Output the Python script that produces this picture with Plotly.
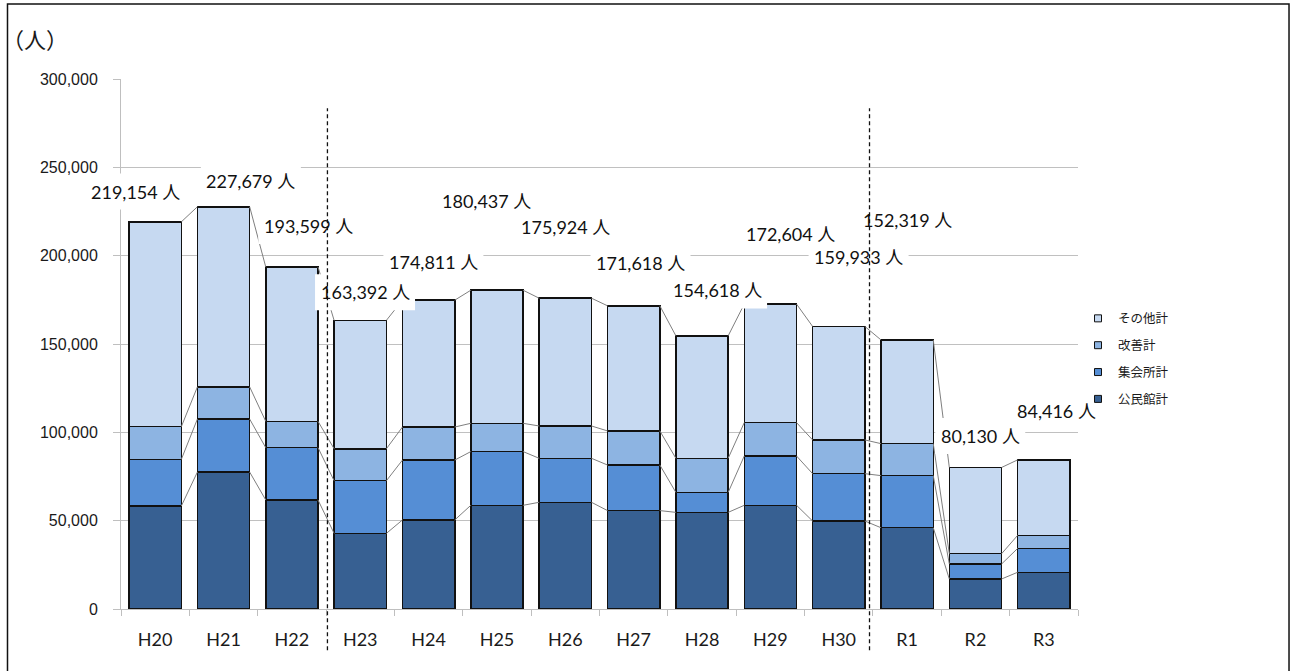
import plotly.graph_objects as go

# 年度
years = ["H20", "H21", "H22", "H23", "H24", "H25", "H26", "H27", "H28", "H29", "H30", "R1", "R2", "R3"]

# 利用者数（人）
kominkan = [58300, 77500, 61700, 42800, 50400, 58700, 60400, 55700, 54700, 58700, 49800, 46000, 17000, 20800]
shukaijo = [26400, 30000, 29600, 29800, 33900, 30400, 24900, 25800, 11300, 27900, 26800, 29500, 8500, 13500]
kaizen = [18500, 18200, 14900, 18100, 18700, 16000, 18300, 19300, 19300, 18900, 19100, 18100, 5800, 7400]
sonota = [115954, 101979, 87399, 72692, 71811, 75337, 72324, 70818, 69318, 67104, 64233, 58719, 48830, 42716]

series = [
    ("公民館計", kominkan, "#376092"),
    ("集会所計", shukaijo, "#558ed5"),
    ("改善計", kaizen, "#8db4e2"),
    ("その他計", sonota, "#c6d9f1"),
]

# 合計ラベルの配置（データ座標）
label_x = [-0.285, 1.40, 2.24, 3.07, 4.07, 4.85, 6.00, 7.10, 8.22, 9.30, 10.29, 11.01, 12.07, 13.19]
label_y = [236300, 242500, 216800, 179300, 196700, 230900, 216500, 195600, 180300, 212500, 199500, 220200, 97900, 112100]

# 区切り線の位置（年度境界）
divider_x = [2.52, 10.45]

BAR_WIDTH = 0.765
N = len(years)
xs = list(range(N))
Y_MAX = 300000

fig = go.Figure()

# 積み上げ棒
for name, vals, color in series:
    fig.add_trace(go.Bar(
        x=xs, y=vals, name=name, width=BAR_WIDTH,
        marker=dict(color=color, line=dict(color="#111111", width=1.5)),
        showlegend=False, hoverinfo="skip",
    ))

# 系列線（隣り合う棒の各段の上端を結ぶ）
cum = [0] * N
for name, vals, color in series:
    cum = [c + v for c, v in zip(cum, vals)]
    lx, ly = [], []
    for i in range(N - 1):
        lx += [xs[i] + BAR_WIDTH / 2, xs[i + 1] - BAR_WIDTH / 2, None]
        ly += [cum[i], cum[i + 1], None]
    fig.add_trace(go.Scatter(
        x=lx, y=ly, mode="lines", line=dict(color="#7f7f7f", width=1),
        showlegend=False, hoverinfo="skip",
    ))
totals = cum

# 凡例（上から その他計・改善計・集会所計・公民館計）
for name, vals, color in reversed(series):
    fig.add_trace(go.Scatter(
        x=[None], y=[None], mode="markers", name=name, legendgroup=name,
        marker=dict(symbol="square", size=7, color=color,
                    line=dict(color="#111111", width=1)),
    ))

shapes = []
annotations = []

# 合計ラベル（白背景つき）
for i, t in enumerate(totals):
    w = 100 if t >= 100000 else 90
    shapes.append(dict(
        type="rect", xref="paper", yref="paper", layer="above",
        xsizemode="pixel", ysizemode="pixel",
        xanchor=(label_x[i] + 0.5) / N, yanchor=label_y[i] / Y_MAX,
        x0=-w / 2, x1=w / 2, y0=-18, y1=18,
        fillcolor="white", line=dict(width=0),
    ))
    annotations.append(dict(
        x=label_x[i], y=label_y[i], xref="x", yref="y",
        text=f"{t:,} 人", showarrow=False,
        font=dict(family="Lato, 'Noto Sans CJK JP'", size=18, color="#111111"),
    ))

# 年度区切りの破線
for dx in divider_x:
    px = (dx + 0.5) / N
    shapes.append(dict(
        type="line", xref="paper", yref="paper", layer="above",
        x0=px, x1=px, y0=-0.078, y1=0.945,
        line=dict(color="#111111", width=1.3, dash="4px,3px"),
    ))

# 外枠
shapes.append(dict(
    type="rect", xref="paper", yref="paper", layer="above",
    x0=-0.1186, x1=1.2205, y0=-0.2, y1=1.1415,
    line=dict(color="#111111", width=1.5), fillcolor="rgba(0,0,0,0)",
))

annotations.append(dict(
    x=-0.1264, y=1.0774, xref="paper", yref="paper", xanchor="left", yanchor="middle",
    text="（人）", showarrow=False,
    font=dict(family="'Noto Sans CJK JP'", size=22, color="#1a1a1a"),
))

fig.update_layout(
    barmode="stack",
    width=1290, height=671,
    margin=dict(l=121, r=212, t=79, b=62),
    paper_bgcolor="white", plot_bgcolor="white",
    shapes=shapes, annotations=annotations,
    showlegend=True,
    legend=dict(
        x=1.0, y=0.576, xanchor="left", yanchor="top",
        font=dict(family="'Noto Sans CJK JP'", size=12.5, color="#1a1a1a"),
        tracegroupgap=7.6, bgcolor="rgba(0,0,0,0)",
    ),
    xaxis=dict(
        range=[-0.5, N - 0.5], tickmode="array", tickvals=xs, ticktext=years,
        ticks="", showgrid=False, zeroline=False,
        showline=True, linecolor="#bfbfbf", linewidth=1,
        tickfont=dict(family="Lato, 'Noto Sans CJK JP'", size=18, color="#1a1a1a"),
        ticklabelstandoff=14,
        minor=dict(tickmode="array", tickvals=[i - 0.5 for i in range(N + 1)],
                   ticks="outside", ticklen=6, tickcolor="#bfbfbf", showgrid=False),
    ),
    yaxis=dict(
        range=[0, Y_MAX], dtick=50000, tickformat=",d",
        showgrid=True, gridcolor="#c0c0c0", gridwidth=1, zeroline=False,
        showline=True, linecolor="#bfbfbf", linewidth=1,
        ticks="outside", ticklen=7, tickcolor="#bfbfbf",
        tickfont=dict(family="'Liberation Sans'", size=16, color="#1a1a1a"),
        ticklabelstandoff=12,
    ),
)

fig.write_html("out.html")
